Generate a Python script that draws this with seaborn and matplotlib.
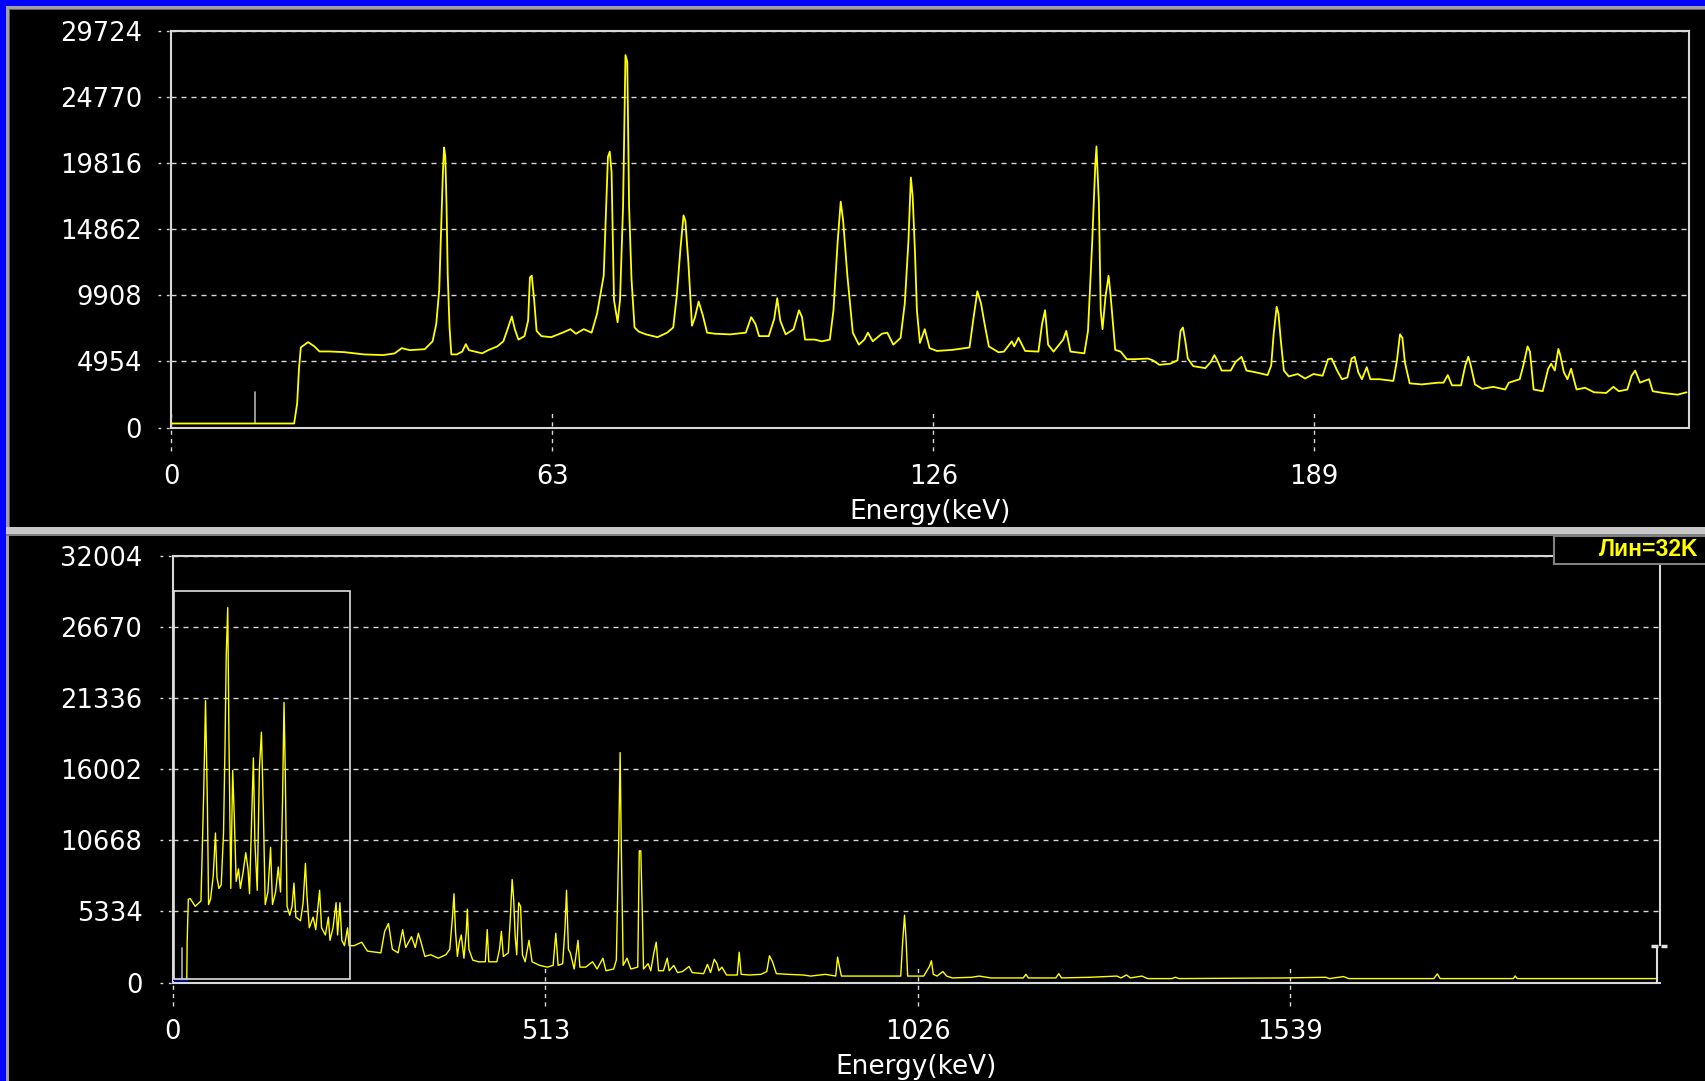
import numpy as np
import pandas as pd
import matplotlib
matplotlib.use("Agg")
import matplotlib.pyplot as plt
import seaborn as sns
from matplotlib.patches import Rectangle

# ---------------- data ----------------
top_kev = [0, 20.3, 20.8, 21.1, 21.4, 22.6, 23.6, 24.5, 26.1, 28.6, 31.8, 35.0, 36.9, 38.1, 39.4,
           41.9, 43.2, 43.8, 44.3, 44.6, 44.9, 45.1, 45.3, 45.5, 45.7, 46.0, 46.3, 47.2, 48.1, 48.7,
           49.2, 50.2, 51.4, 52.4, 53.9, 54.9, 55.5, 56.3, 56.8, 57.4, 58.4, 59.0, 59.3, 59.6, 60.0,
           60.4, 61.2, 62.8, 64.7, 66.0, 66.9, 68.2, 69.5, 70.4, 71.5, 71.9, 72.2, 72.5, 72.8, 73.2,
           73.8, 74.2, 74.7, 75.1, 75.4, 75.7, 76.1, 76.6, 77.3, 78.5, 80.4, 82.0, 83.0, 83.6, 84.2,
           84.7, 85.0, 85.5, 86.1, 86.6, 87.2, 87.9, 88.6, 89.9, 92.4, 95.0, 95.9, 96.6, 97.2, 98.8,
           99.7, 100.2, 100.7, 101.6, 102.9, 103.8, 104.3, 104.8, 106.4, 107.6, 108.9, 109.5, 110.2,
           110.7, 111.1, 111.8, 112.7, 113.7, 114.6, 115.2, 116.0, 117.5, 118.4, 119.4, 120.6, 121.3,
           121.9, 122.3, 122.6, 123.0, 123.3, 123.8, 124.6, 125.4, 126.6, 129.2, 132.0, 132.6, 133.3,
           133.9, 134.5, 135.2, 136.8, 137.7, 139.0, 139.4, 140.1, 141.2, 143.4, 144.0, 144.5, 145.0,
           145.9, 147.5, 148.0, 148.7, 151.0, 151.6, 152.3, 152.8, 153.0, 153.4, 153.7, 154.0, 154.5,
           155.0, 155.3, 156.1, 157.0, 158.0, 159.2, 161.5, 162.3, 163.4, 165.2, 166.4, 166.9, 167.3,
           167.7, 168.1, 169.0, 171.0, 171.9, 172.5, 173.1, 173.7, 175.2, 176.0, 177.0, 177.8, 179.3,
           181.3, 181.9, 182.3, 182.8, 183.1, 183.5, 184.0, 184.8, 186.3, 187.5, 188.9, 190.4, 191.3,
           191.9, 192.8, 193.6, 194.5, 195.2, 195.7, 196.3, 196.9, 197.7, 198.3, 199.8, 202.1, 202.7,
           203.2, 203.6, 204.0, 204.8, 206.8, 209.5, 210.4, 211.1, 211.8, 213.3, 214.0, 214.5, 214.9,
           215.6, 216.8, 218.6, 220.6, 221.2, 223.0, 223.6, 224.3, 224.7, 225.3, 226.8, 227.7, 228.2,
           228.8, 229.4, 229.7, 230.3, 230.9, 231.5, 232.4, 233.8, 235.3, 237.3, 238.5, 239.4, 240.8,
           241.5, 242.1, 242.9, 243.6, 244.4, 245.0, 246.7, 249.1, 250.6]
top_counts = [300, 300, 1800, 4400, 6000, 6400, 6100, 5700, 5700, 5650, 5480, 5430, 5550, 5950, 5800,
              5870, 6460, 7750, 10340, 14700, 19100, 21000, 20300, 16800, 11500, 7500, 5480, 5480, 5690, 6250,
              5800, 5690, 5560, 5800, 6080, 6460, 7240, 8320, 7370, 6590, 6850, 8010, 11250, 11380, 9560,
              7240, 6850, 6770, 7110, 7370, 7030, 7370, 7110, 8530, 11380, 16550, 20290, 20680, 19130, 9560,
              7890, 9560, 16550, 27920, 27400, 16550, 11120, 7500, 7190, 6980, 6770, 7110, 7500, 9950, 13440,
              15900, 15510, 12410, 7630, 8270, 9440, 8400, 7110, 7030, 6980, 7110, 8270, 7760, 6850, 6850,
              8140, 9690, 8010, 6980, 7370, 8790, 8270, 6590, 6590, 6460, 6590, 8790, 13960,
              16930, 15510, 11380, 7110, 6210, 6590, 7110, 6460, 7030, 7110, 6210, 6720, 9310,
              13960, 18740, 17320, 12930, 8790, 6340, 7370, 5950, 5740, 5820, 6000, 8010, 10210,
              9310, 7760, 6080, 5640, 5690, 6460, 6080, 6720, 5740, 5690, 7760, 8790, 6210,
              5690, 6590, 7240, 5690, 5560, 7240, 13960, 19650, 21070, 16800, 8790, 7370, 9830,
              11380, 10080, 5820, 5690, 5120, 5120, 5170, 5040, 4700, 4780, 5040, 7240, 7500,
              6460, 5170, 4600, 4450, 4910, 5430, 4910, 4270, 4270, 4910, 5300, 4270, 4140,
              3930, 4650, 6980, 9050, 8530, 6460, 4270, 3830, 4010, 3670, 4010, 3880, 5120,
              5170, 4270, 3620, 3750, 5170, 5300, 4140, 3620, 4520, 3620, 3620, 3490, 5040,
              6980, 6720, 4910, 3310, 3230, 3360, 3360, 3930, 3160, 3160, 4650, 5300, 4650,
              3230, 2900, 3050, 2850, 3360, 3620, 4650, 6080, 5690, 2850, 2720, 4400, 4780,
              4270, 5890, 5430, 4140, 3620, 4400, 2850, 2980, 2640, 2590, 3050, 2720, 2850,
              3880, 4270, 3360, 3490, 3620, 2720, 2590, 2460, 2640]

bot_kev = [19, 19.5, 21.1, 23.7, 30.6, 38.5, 42.2, 44.8, 47.4, 49.0, 51.7, 55.4, 58.5, 60.6, 63.3,
           66.4, 69.6, 71.7, 73.3, 75.4, 77.0, 79.6, 82.2, 84.4, 87.0, 90.2, 92.8, 96.5, 100.2, 103.3,
           105.4, 108.6, 110.7, 112.8, 116.0, 119.1, 121.8, 124.4, 127.0, 130.7, 134.4, 137.0, 141.3,
           145.0, 148.1, 150.8, 152.9, 154.5, 157.1, 160.8, 164.0, 166.6, 169.2, 175.6, 179.2, 182.4,
           184.5, 187.7, 193.0, 196.6, 201.9, 204.6, 209.8, 214.0, 216.2, 220.4, 224.6, 226.7, 229.9,
           232.5, 236.2, 240.4, 242.5, 249.4, 259.9, 267.8, 286.3, 291.5, 296.8, 302.1, 310.0, 316.3,
           320.5, 328.5, 333.7, 337.9, 341.6, 346.9, 354.8, 365.3, 375.9, 381.2, 384.9, 387.0, 389.1,
           391.7, 394.3, 397.0, 400.7, 403.8, 405.4, 407.5, 412.8, 420.7, 430.2, 432.8, 434.9, 446.0,
           449.7, 452.3, 455.0, 461.8, 464.4, 467.1, 469.2, 471.3, 473.4, 476.1, 478.7, 481.3, 485.0,
           490.3, 494.5, 505.0, 515.6, 523.5, 527.2, 530.4, 536.7, 539.9, 542.0, 544.6, 547.2, 552.5,
           557.8, 560.4, 568.3, 577.8, 584.1, 592.1, 596.3, 606.9, 610.6, 613.7, 615.8, 617.4, 620.0,
           625.3, 630.6, 640.1, 642.2, 644.3, 646.4, 648.0, 654.4, 658.0, 662.3, 665.5, 668.7, 675.5,
           680.7, 683.4, 689.7, 694.9, 701.8, 710.7, 715.0, 730.8, 736.1, 740.3, 745.5, 749.2, 751.8,
           756.0, 762.4, 777.2, 779.8, 782.5, 794.0, 809.9, 817.8, 821.5, 825.7, 831.0, 846.8, 867.8,
           878.4, 898.4, 912.7, 915.3, 918.0, 920.6, 1002.3, 1004.9, 1007.5, 1009.7, 1011.8, 1033.9,
           1041.8, 1044.5, 1047.1, 1052.4, 1060.3, 1065.5, 1073.4, 1099.8, 1110.4, 1126.2, 1171.0,
           1174.7, 1178.0, 1215.8, 1220.0, 1223.7, 1263.2, 1300.1, 1305.4, 1313.3, 1318.6, 1334.4,
           1342.3, 1375.7, 1380.6, 1385.5, 1531.7, 1587.7, 1592.6, 1612.1, 1619.4, 1736.4, 1741.3,
           1745.2, 1846.0, 1848.5, 1851.4, 2043.5]
bot_counts = [200, 3030, 6250, 6300, 5720, 6120, 14030, 21140, 13230, 5850, 6250, 8000, 11220, 7860, 7060,
              7330, 11220, 17920, 24500, 28120, 18590, 7060, 15910, 12420, 7590, 8530, 7060, 8270, 9740, 8530,
              6660, 12960, 16850, 10550, 6920, 16180, 18780, 12960, 5850, 6790, 10140, 5850, 6790,
              8670, 6790, 13500, 21010, 16180, 5720, 5050, 5720, 7460, 4910, 4640, 5990, 8940,
              6520, 4110, 4910, 3970, 6920, 4110, 3570, 4910, 3170, 4110, 5990, 3570, 5990,
              3170, 2770, 4110, 2770, 2770, 3030, 2360, 2230, 3840, 4430, 2500, 2230, 3970,
              2630, 3440, 2630, 3700, 3030, 1960, 2090, 1830, 2090, 2500, 4910, 6660, 3840,
              1960, 3030, 3570, 1830, 3700, 5500, 2500, 1690, 1560, 1560, 3970, 1560, 1560,
              2500, 3840, 1960, 2230, 4640, 7730, 6250, 3440, 2090, 5990, 5720, 2090, 1560,
              3170, 1560, 1290, 1160, 1290, 3700, 1290, 1420, 4110, 6920, 2500, 2230, 1020,
              3170, 1160, 1160, 1560, 1020, 1830, 890, 1020, 1690, 10010, 17250, 10280, 1290,
              1830, 1020, 1160, 9880, 9880, 5180, 1020, 1420, 890, 2230, 3030, 890, 890,
              1830, 890, 1290, 750, 830, 1210, 750, 670, 1370, 750, 1750, 1420, 890,
              1160, 570, 570, 2280, 620, 570, 620, 830, 2010, 1560, 670, 620, 570,
              490, 620, 490, 1910, 1160, 490, 490, 3030, 5050, 3170, 490, 490,
              1210, 1640, 620, 490, 830, 490, 350, 400, 490, 350, 350,
              620, 350, 350, 670, 350, 400, 490, 350, 570, 350, 490,
              300, 300, 400, 300, 350, 400, 300, 450, 300, 300, 650,
              300, 300, 500, 300, 300]

bot_low_kev = [0, 19]
bot_low_counts = [200, 200]

top_xticks = [0, 63, 126, 189]
top_yticks = [0, 4954, 9908, 14862, 19816, 24770, 29724]
top_xlim = (0, 251)
bot_xticks = [0, 513, 1026, 1539]
bot_yticks = [0, 5334, 10668, 16002, 21336, 26670, 32004]
bot_xlim = (0, 2048)

# cursor markers and zoom-window box in the overview
top_cursor_kev, top_cursor_counts = [13.8, 13.8], [300, 2660]
bot_cursor_kev, bot_cursor_counts = [12.0, 12.0], [200, 2600]
box_kev = [1, 244]
box_counts = [270, 29400]
end_marker_kev = [2043.5, 2043.5]
end_marker_counts = [0, 2745]
end_marker_bar_kev = [[2035.6, 2044.7], [2049.4, 2057.7]]

label_text = "Лин=32K"
xlabel_text = "Energy(keV)"

# ---------------- styling ----------------
sns.set_theme(style="dark", rc={"axes.facecolor": "black", "figure.facecolor": "black"})
plt.rcParams['font.family'] = ['DejaVu Sans']

W, H = 1706, 1081
fig = plt.figure(figsize=(W / 100, H / 100), dpi=100, facecolor='black')


def fx(px):
    return px / W


def fy(py):
    return 1 - py / H


def frect(x0, y0, x1, y1, **kw):
    r = Rectangle((fx(x0), fy(y1)), fx(x1) - fx(x0), fy(y0) - fy(y1),
                  transform=fig.transFigure, **kw)
    fig.add_artist(r)
    return r


# window chrome
frect(0, 0, W, 6.5, facecolor='#0000FF', edgecolor='none', zorder=0)
frect(0, 0, 6.5, H, facecolor='#0000FF', edgecolor='none', zorder=0)
frect(6.5, 6.5, W, 8.5, facecolor='#A0A0A0', edgecolor='none', zorder=0)
frect(6.5, 6.5, 8.5, H, facecolor='#A0A0A0', edgecolor='none', zorder=0)
frect(8.5, 8.5, W, 10, facecolor='#606060', edgecolor='none', zorder=0)
frect(8.5, 8.5, 10, 527, facecolor='#606060', edgecolor='none', zorder=0)
frect(6.5, 527, W, 536, facecolor='#C8C8C8', edgecolor='none', zorder=0)
frect(6.5, 534, W, 536, facecolor='#808080', edgecolor='none', zorder=0)

YELLOW = '#FFFF00'
AXC = '#D8D8D8'
GRIDC = '#D8D8D8'
FS = 18.5


def style_axes(ax, xticks, yticks, xlim, ylim, axw_px, axh_px, ylabpad):
    ax.set_facecolor('black')
    ax.set_xlim(*xlim)
    ax.set_ylim(*ylim)
    ax.set_xticks(xticks)
    ax.set_xticklabels([str(t) for t in xticks])
    ax.set_yticks(yticks)
    ax.set_yticklabels([str(t) for t in yticks])
    ax.tick_params(axis='both', length=0, colors='white', labelsize=FS)
    ax.tick_params(axis='y', pad=ylabpad)
    ax.tick_params(axis='x', pad=26.5)
    for s in ax.spines.values():
        s.set_visible(True)
        s.set_color(AXC)
        s.set_linewidth(1.5)
    ax.grid(axis='y', color=GRIDC, linestyle=(0, (3.6, 3.6)), linewidth=1.0)
    ax.grid(axis='x', visible=False)
    ax.set_axisbelow(True)
    # dashed tick marks
    for v in yticks:
        ax.plot([-13 / axw_px, 0], [v, v], transform=ax.get_yaxis_transform(),
                clip_on=False, color=GRIDC, lw=1.0, ls=(0, (2, 4)))
    for v in xticks:
        ax.plot([v, v], [-23 / axh_px, 17.6 / axh_px], transform=ax.get_xaxis_transform(),
                clip_on=False, color=GRIDC, lw=1.0, ls=(0, (3, 3)))
    ax.set_xlabel(xlabel_text, color='white', fontsize=FS + 0.5, labelpad=6.5)
    ax.set_ylabel('')


# ---------------- top panel ----------------
tl, tr, tt, tb = 171.4, 1689, 31, 427.5
ax1 = fig.add_axes([fx(tl), fy(tb), (tr - tl) / W, (tb - tt) / H])
top_df = pd.DataFrame({'keV': top_kev, 'counts': top_counts})
sns.lineplot(data=top_df, x='keV', y='counts', ax=ax1, color=YELLOW, linewidth=1.3,
             estimator=None, sort=False, zorder=3)
ax1.plot(top_cursor_kev, top_cursor_counts, color='#B0B0B0', lw=1.2, zorder=2)
style_axes(ax1, top_xticks, top_yticks, top_xlim, (top_yticks[0], top_yticks[-1]),
           tr - tl, tb - tt, 21.0)

# ---------------- bottom panel ----------------
bl, br, bt, bb = 173, 1660, 555.8, 982.6
ax2 = fig.add_axes([fx(bl), fy(bb), (br - bl) / W, (bb - bt) / H])
bot_df = pd.DataFrame({'keV': bot_kev, 'counts': bot_counts})
sns.lineplot(data=bot_df, x='keV', y='counts', ax=ax2, color=YELLOW, linewidth=1.0,
             estimator=None, sort=False, zorder=3)
sns.lineplot(x=bot_low_kev, y=bot_low_counts, ax=ax2, color='#0000D0', linewidth=1.5,
             estimator=None, sort=False, zorder=3)
ax2.plot(bot_cursor_kev, bot_cursor_counts, color='#B0B0B0', lw=1.2, zorder=2)
ax2.add_patch(Rectangle((box_kev[0], box_counts[0]), box_kev[1] - box_kev[0],
                        box_counts[1] - box_counts[0], fill=False, edgecolor='#E0E0E0',
                        linewidth=1.2, zorder=4))
style_axes(ax2, bot_xticks, bot_yticks, bot_xlim, (bot_yticks[0], bot_yticks[-1]),
           br - bl, bb - bt, 22.0)
ax2.spines['right'].set_bounds(2830, bot_yticks[-1])
ax2.plot(end_marker_kev, end_marker_counts, color='#E0E0E0', lw=1.5, zorder=4, clip_on=False)
for seg in end_marker_bar_kev:
    ax2.plot(seg, [end_marker_counts[1]] * 2, color='#E0E0E0', lw=2.5, zorder=4,
             clip_on=False, solid_capstyle='butt')

# label box
frect(1554, 536, W + 5, 564, facecolor='black', edgecolor='#808080', linewidth=1.5, zorder=5)
fig.text(fx(1698), fy(550), label_text, color='#FFFF00', fontsize=16.5, fontweight='bold',
         family=['Liberation Sans', 'DejaVu Sans'], ha='right', va='center', zorder=6)

fig.savefig('out.png', dpi=100, facecolor='black')
